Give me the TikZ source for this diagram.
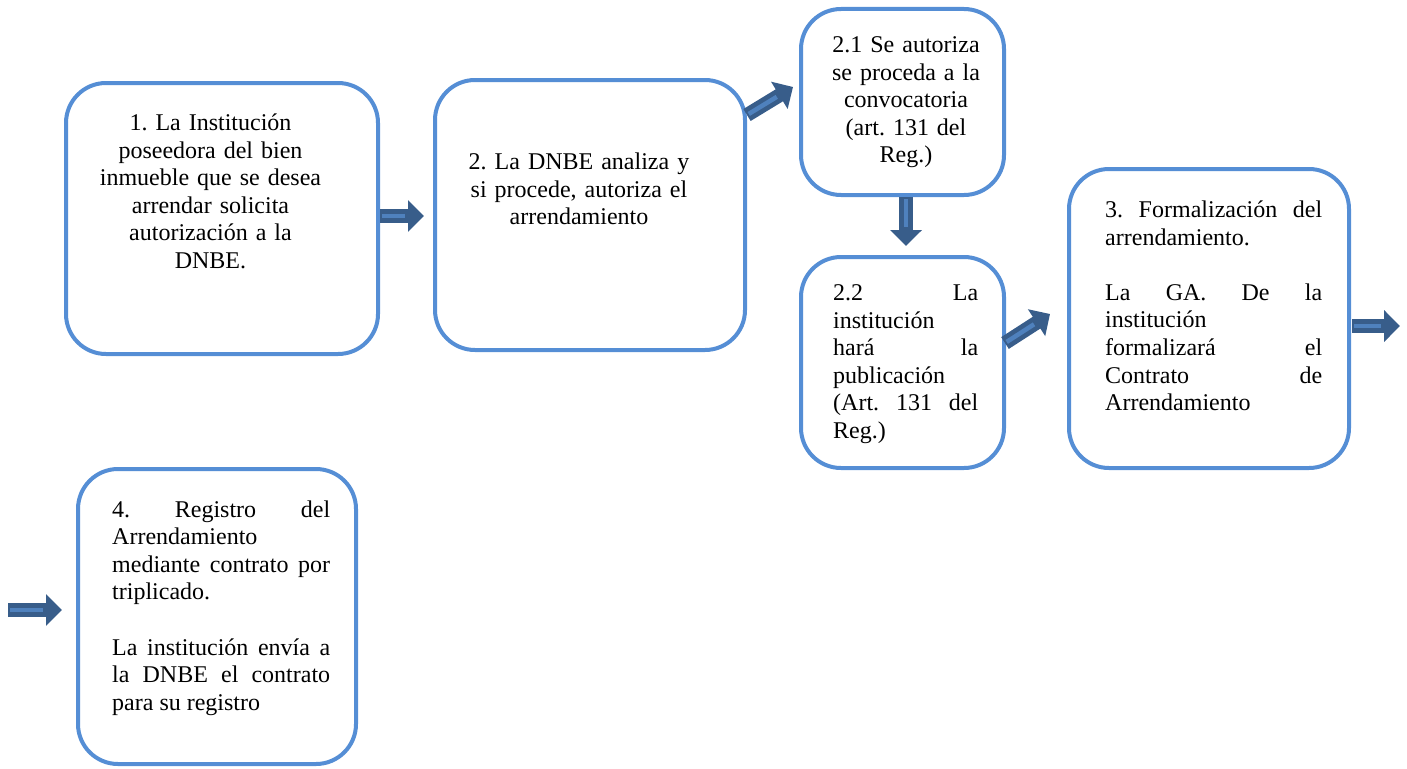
\documentclass[tikz,border=0pt]{standalone}
\usepackage{fontspec}
\setmainfont{Liberation Serif}
\usetikzlibrary{arrows.meta,calc}
\frenchspacing
\definecolor{boxblue}{RGB}{85,142,213}
\definecolor{arrdark}{RGB}{56,93,138}
\definecolor{arrlight}{RGB}{79,129,189}
\tikzset{
  procbox/.style={draw=boxblue, line width=4pt, rounded corners=40pt, fill=white, inner sep=0pt},
  txt/.style={inner sep=0pt, font=\fontsize{24}{27.6}\selectfont\frenchspacing},
  ctxt/.style={txt, anchor=north, align=center, text width=300pt},
  jtxt/.style={txt, anchor=north west, align=justify},
  arrbody/.style={draw=arrdark, line width=14pt, -{Triangle[length=16pt,width=31pt]}},
  arrcore/.style={draw=arrlight, line width=4.5pt},
}
\newcommand\blockarr[2]{%
  \draw[arrbody] (#1) -- (#2);
  \draw[arrcore] ($(#1)!2pt!(#2)$) -- ($(#2)!19pt!(#1)$);
}
\begin{document}
\begin{tikzpicture}[x=1pt,y=-1pt]
\useasboundingbox (0,0) rectangle (1407,768);
% boxes
\node[procbox, minimum width=312pt, minimum height=271pt] (b1) at (222,218.5) {};
\node[procbox, minimum width=310pt, minimum height=270pt] (b2) at (590,215) {};
\node[procbox, minimum width=203pt, minimum height=186pt] (b21) at (902.5,102) {};
\node[procbox, minimum width=203pt, minimum height=211pt] (b22) at (902.5,362.5) {};
\node[procbox, minimum width=280pt, minimum height=299pt] (b3) at (1209,318.5) {};
\node[procbox, minimum width=278pt, minimum height=295pt] (b4) at (217,616.5) {};
% texts
\node[ctxt] (t1) at (210.5,111) {\strut 1. La Institución\\poseedora del bien\\inmueble que se desea\\arrendar solicita\\autorización a la\\DNBE.};
\node[ctxt] (t2) at (579,150) {\strut 2. La DNBE analiza y\\si procede, autoriza el\\arrendamiento};
\node[ctxt] (t21) at (906,33) {\strut 2.1 Se autoriza\\se proceda a la\\convocatoria\\(art. 131 del\\Reg.)};
\node[jtxt, text width=145pt] (t22) at (833,281) {\strut 2.2 La\linebreak institución\\ hará la\linebreak publicación\\ (Art. 131 del\linebreak Reg.)};
\node[jtxt, text width=217pt] (t3) at (1105,198) {\strut 3. Formalización del\linebreak arrendamiento.\par\vspace{27.6pt}La GA. De la\linebreak institución\\ formalizará el\linebreak Contrato de\linebreak Arrendamiento};
\node[jtxt, text width=218pt] (t4) at (112,497.5) {\strut 4. Registro del\linebreak Arrendamiento\\ mediante contrato por\linebreak triplicado.\par\vspace{27.6pt}La institución envía a\linebreak la DNBE el contrato\linebreak para su registro};
% arrows
\coordinate (a1s) at (380,216); \coordinate (a1e) at (424,216);
\coordinate (a2s) at (747,115); \coordinate (a2e) at (793,87);
\coordinate (a3s) at (906,197); \coordinate (a3e) at (906,246);
\coordinate (a4s) at (1005,343); \coordinate (a4e) at (1050,314);
\coordinate (a5s) at (1352,326); \coordinate (a5e) at (1400,326);
\coordinate (a6s) at (8,610); \coordinate (a6e) at (62,610);
\blockarr{a1s}{a1e}
\blockarr{a2s}{a2e}
\blockarr{a3s}{a3e}
\blockarr{a4s}{a4e}
\blockarr{a5s}{a5e}
\blockarr{a6s}{a6e}
\end{tikzpicture}
\end{document}
